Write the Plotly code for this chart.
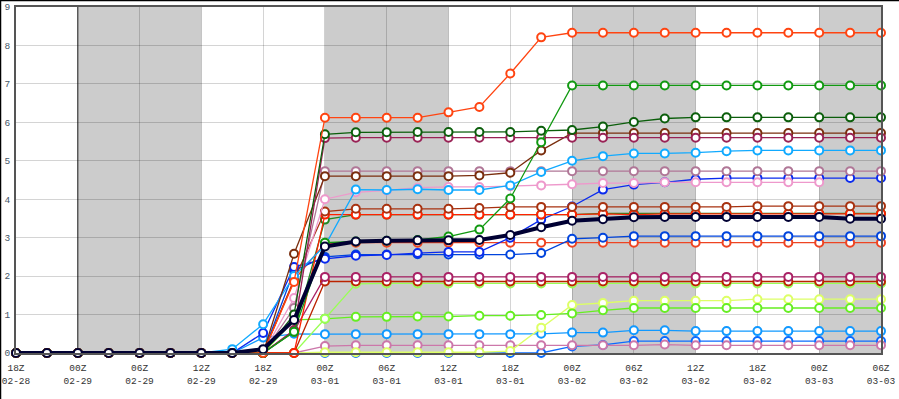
import pandas as pd
import plotly.graph_objects as go

# ---- categories (3-hourly times) ----
times = pd.date_range("2024-02-28 18:00", periods=29, freq="3h")

tick_vals = ["2024-02-28 18:00", "2024-02-29 00:00", "2024-02-29 06:00", "2024-02-29 12:00",
             "2024-02-29 18:00", "2024-03-01 00:00", "2024-03-01 06:00", "2024-03-01 12:00",
             "2024-03-01 18:00", "2024-03-02 00:00", "2024-03-02 06:00", "2024-03-02 12:00",
             "2024-03-02 18:00", "2024-03-03 00:00", "2024-03-03 06:00"]
tick_text = ["18Z<br>02-28", "00Z<br>02-29", "06Z<br>02-29", "12Z<br>02-29", "18Z<br>02-29",
             "00Z<br>03-01", "06Z<br>03-01", "12Z<br>03-01", "18Z<br>03-01",
             "00Z<br>03-02", "06Z<br>03-02", "12Z<br>03-02", "18Z<br>03-02",
             "00Z<br>03-03", "06Z<br>03-03"]
y_ticks = [0, 1, 2, 3, 4, 5, 6, 7, 8, 9]

night_starts = ["2024-02-29 00:00", "2024-03-01 00:00", "2024-03-02 00:00", "2024-03-03 00:00"]
night_ends = ["2024-02-29 12:00", "2024-03-01 12:00", "2024-03-02 12:00", "2024-03-03 06:00"]

Z7 = [0, 0, 0, 0, 0, 0, 0]

# ---- series values ----
orangered = Z7 + [0, 0, 1.85, 6.12, 6.12, 6.12, 6.12, 6.26, 6.4, 7.27, 8.21, 8.33,
                  8.33, 8.33, 8.33, 8.33, 8.33, 8.33, 8.33, 8.33, 8.33, 8.33]
green_b = Z7 + [0, 0, 0.55, 2.87, 2.9, 2.92, 2.94, 3.03, 3.21, 4.02, 5.48, 6.96,
                6.96, 6.96, 6.96, 6.96, 6.96, 6.96, 6.96, 6.96, 6.96, 6.96]
dark_green = Z7 + [0, 0, 1.0, 5.69, 5.74, 5.74, 5.75, 5.75, 5.75, 5.75, 5.78, 5.8,
                   5.89, 6.01, 6.1, 6.13, 6.13, 6.13, 6.13, 6.13, 6.13, 6.13]
crimson = Z7 + [0, 0, 0.6, 5.59, 5.6, 5.6, 5.6, 5.6, 5.6, 5.6, 5.6, 5.6,
                5.6, 5.6, 5.6, 5.6, 5.6, 5.6, 5.6, 5.6, 5.6, 5.6]
brown = Z7 + [0, 0, 2.58, 4.6, 4.6, 4.6, 4.6, 4.6, 4.62, 4.69, 5.27, 5.72,
              5.72, 5.72, 5.72, 5.72, 5.72, 5.72, 5.72, 5.72, 5.72, 5.72]
sky = Z7 + [0.1, 0.75, 2.0, 2.79, 4.25, 4.24, 4.26, 4.24, 4.24, 4.36, 4.71, 5.0,
            5.12, 5.19, 5.19, 5.21, 5.25, 5.27, 5.27, 5.27, 5.27, 5.27]
mauve = Z7 + [0, 0, 1.17, 4.73, 4.73, 4.73, 4.73, 4.73, 4.73, 4.73, 4.73, 4.73,
              4.73, 4.73, 4.73, 4.73, 4.73, 4.73, 4.73, 4.73, 4.73, 4.73]
blue_a = Z7 + [0, 0.52, 2.24, 2.45, 2.53, 2.55, 2.6, 2.63, 2.63, 3.0, 3.47, 3.81,
               4.25, 4.38, 4.44, 4.52, 4.55, 4.55, 4.55, 4.55, 4.55, 4.55]
pink = Z7 + [0, 0, 1.43, 4.0, 4.18, 4.23, 4.3, 4.32, 4.32, 4.34, 4.36, 4.39,
             4.42, 4.42, 4.44, 4.44, 4.44, 4.44, 4.44, 4.44, None, None]
brown_red = Z7 + [0, 0, 1.9, 3.68, 3.75, 3.75, 3.75, 3.75, 3.77, 3.8, 3.8, 3.8,
                  3.8, 3.8, 3.8, 3.8, 3.8, 3.82, 3.82, 3.82, 3.82, 3.82]
red = Z7 + [0, 0, 0, 3.6, 3.6, 3.6, 3.6, 3.6, 3.6, 3.6, 3.6, 3.6,
            3.62, 3.6, 3.62, 3.62, 3.62, 3.62, 3.62, 3.62, 3.62, 3.62]
green_a = Z7 + [0, 0, 0.55, 3.47, 3.6, 3.6, 3.6, 3.6, 3.6, 3.6, 3.6, 3.6,
                3.63, 3.63, 3.63, 3.63, 3.63, 3.63, 3.63, 3.63, 3.63, 3.63]
red2 = Z7 + [0, 0, 1.9, 2.85, 2.87, 2.87, 2.87, 2.87, 2.87, 2.87, 2.87, 2.87,
             2.87, 2.87, 2.87, 2.87, 2.87, 2.87, 2.87, 2.87, 2.87, 2.87]
blue_b = Z7 + [0, 0, 2.14, 2.5, 2.56, 2.56, 2.57, 2.56, 2.56, 2.56, 2.6, 2.97,
               3.0, 3.04, 3.04, 3.04, 3.04, 3.04, 3.04, 3.04, 3.04, 3.04]
crimson2 = Z7 + [0, 0, 0.57, 1.98, 1.98, 1.98, 1.98, 1.98, 1.98, 1.98, 1.98, 1.98,
                 1.98, 1.98, 1.98, 1.98, 1.98, 1.98, 1.98, 1.98, 1.98, 1.98]
dark_red = Z7 + [0, 0, 0, 1.86, 1.86, 1.86, 1.86, 1.86, 1.86, 1.86, 1.86, 1.86,
                 1.86, 1.86, 1.86, 1.86, 1.86, 1.86, 1.86, 1.86, 1.86, 1.86]
lime = Z7 + [0, 0, 0, 0.89, 1.8, 1.81, 1.81, 1.81, 1.81, 1.81, 1.81, 1.81,
             1.81, 1.81, 1.81, 1.81, 1.81, 1.81, 1.81, 1.81, 1.81, 1.81]
green_c = Z7 + [0, 0, 0.86, 0.89, 0.94, 0.94, 0.95, 0.95, 0.97, 0.97, 0.99, 1.03,
                1.11, 1.17, 1.17, 1.17, 1.17, 1.17, 1.17, 1.17, 1.17, 1.17]
yellow_green = Z7 + [0, 0, 0, 0.02, 0.02, 0.02, 0.02, 0.02, 0.02, 0.05, 0.66, 1.25,
                     1.3, 1.36, 1.36, 1.36, 1.36, 1.4, 1.4, 1.4, 1.4, 1.4]
dodger = Z7 + [0, 0.4, 0.5, 0.49, 0.49, 0.49, 0.49, 0.49, 0.49, 0.49, 0.5, 0.53,
               0.53, 0.59, 0.59, 0.57, 0.57, 0.57, 0.57, 0.57, 0.57, 0.57]
blue0 = Z7 + [0, 0, 0, 0, 0, 0, 0, 0, 0, 0, 0, 0.17,
              0.21, 0.31, 0.31, 0.31, 0.31, 0.31, 0.31, 0.31, 0.31, 0.31]
pink2 = Z7 + [0, 0, 0, 0.18, 0.2, 0.2, 0.2, 0.2, 0.2, 0.2, 0.2, 0.2,
              0.2, 0.2, 0.22, 0.2, 0.2, 0.2, 0.2, 0.2, 0.2, 0.2]
navy = Z7 + [0, 0.1, 0.86, 2.77, 2.9, 2.92, 2.93, 2.93, 2.94, 3.07, 3.27, 3.44,
             3.48, 3.53, 3.54, 3.54, 3.54, 3.54, 3.54, 3.54, 3.49, 3.49]

series = [
    ("blue0", blue0, "#0a6cff"),
    ("pink2", pink2, "#cc77aa"),
    ("dodger", dodger, "#1199ff"),
    ("yellow_green", yellow_green, "#ddff66"),
    ("green_c", green_c, "#66ee22"),
    ("lime", lime, "#99ff55"),
    ("dark_red", dark_red, "#bb2200"),
    ("crimson2", crimson2, "#aa2266"),
    ("red2", red2, "#ee4422"),
    ("blue_b", blue_b, "#0044dd"),
    ("blue_a", blue_a, "#0a2aee"),
    ("green_a", green_a, "#228822"),
    ("red", red, "#ff2200"),
    ("brown_red", brown_red, "#a83210"),
    ("pink", pink, "#ee99cc"),
    ("mauve", mauve, "#b07797"),
    ("sky", sky, "#11aaff"),
    ("brown", brown, "#7a2e0e"),
    ("crimson", crimson, "#992255"),
    ("dark_green", dark_green, "#0b5e0b"),
    ("green_b", green_b, "#119911"),
    ("orangered", orangered, "#ff4411"),
]

fig = go.Figure()
for name, vals, col in series:
    fig.add_trace(go.Scatter(
        x=times, y=vals, mode="lines+markers", name=name, cliponaxis=False,
        line=dict(color=col, width=1.3),
        marker=dict(symbol="circle", size=8, color="white", line=dict(color=col, width=2)),
    ))
fig.add_trace(go.Scatter(
    x=times, y=navy, mode="lines+markers", name="navy", cliponaxis=False,
    line=dict(color="#000033", width=4),
    marker=dict(symbol="circle", size=8, color="white", line=dict(color="#000033", width=2)),
))

shapes = []
for s, e in zip(night_starts, night_ends):
    shapes.append(dict(type="rect", xref="x", yref="y", x0=s, x1=e, y0=0, y1=9,
                       fillcolor="#cccccc", line=dict(width=0), layer="below"))
shapes.append(dict(type="line", xref="x", yref="y", x0=night_starts[0], x1=night_starts[0],
                   y0=0, y1=9, line=dict(color="#666666", width=1.5), layer="below"))
W, H = 899 - 16 - 18, 399 - 7 - 46
shapes.append(dict(type="line", xref="paper", yref="paper", x0=-16 / W, x1=1 + 18 / W,
                   y0=1 + 6.5 / H, y1=1 + 6.5 / H, line=dict(color="black", width=1.5)))
shapes.append(dict(type="line", xref="paper", yref="paper", x0=-15.5 / W, x1=-15.5 / W,
                   y0=-46 / H, y1=1 + 7 / H, line=dict(color="black", width=1.5)))

fig.update_layout(
    width=899, height=399,
    margin=dict(l=16, r=18, t=7, b=46, autoexpand=False),
    paper_bgcolor="white", plot_bgcolor="white",
    showlegend=False,
    shapes=shapes,
    font=dict(family="Liberation Mono", size=9.5, color="#333333"),
)
fig.update_xaxes(
    range=[tick_vals[0], tick_vals[-1]], automargin=False,
    tickvals=tick_vals, ticktext=tick_text, tickangle=0, ticklabelstandoff=5,
    showgrid=True, gridcolor="rgba(0,0,0,0.17)", gridwidth=1,
    showline=True, mirror=True, linecolor="#555555", linewidth=2,
    ticks="", zeroline=False, tickfont=dict(size=9.5, color="#333333"),
)
fig.update_yaxes(
    range=[0, 9], tickvals=y_ticks, automargin=False, ticklabelstandoff=2,
    showgrid=True, gridcolor="rgba(0,0,0,0.17)", gridwidth=1,
    showline=True, mirror=True, linecolor="#555555", linewidth=2,
    ticks="", zeroline=False, tickfont=dict(size=9.5, color="#445566"),
)

fig.write_html(
    "out.html",
    config={"displayModeBar": False},
    post_script="document.body.style.margin='0';document.body.style.overflow='hidden';",
)
